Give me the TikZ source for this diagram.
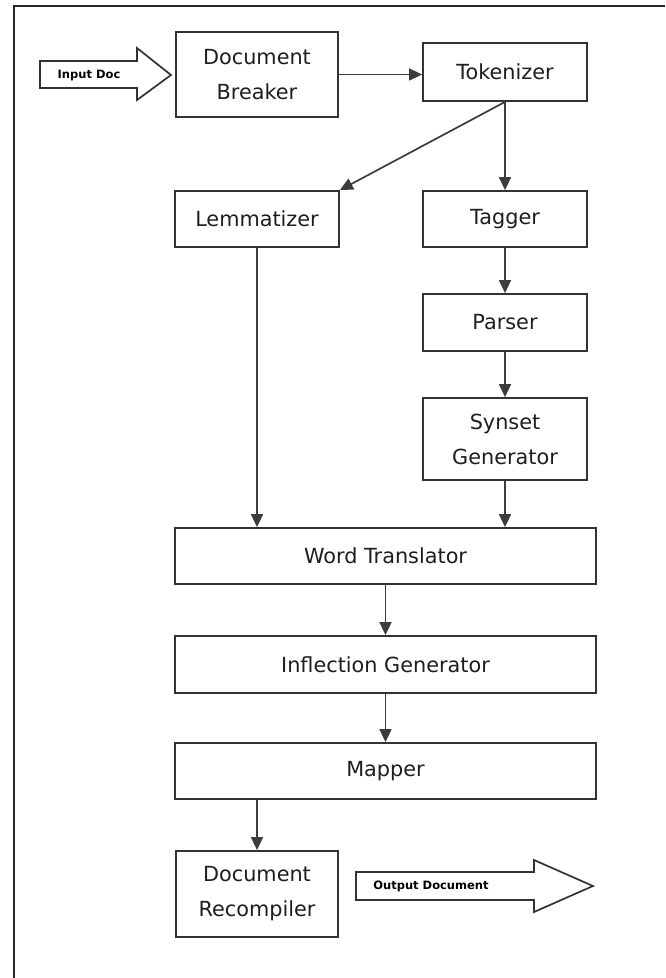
\documentclass[tikz,border=0pt]{standalone}
\usepackage{fontspec}
\setmainfont{DejaVu Sans}
\usetikzlibrary{arrows.meta}
\definecolor{linegray}{HTML}{333333}
\definecolor{conngray}{HTML}{3C3C3C}
\definecolor{txt}{HTML}{1E1E1E}
\begin{document}
\begin{tikzpicture}[x=1pt,y=-1pt,
  box/.style={draw=linegray, line width=1.8pt, fill=white, inner sep=0pt,
    align=center, text=txt, font=\fontsize{20.8}{35}\selectfont},
  conn/.style={draw=conngray, line width=1.7pt, -{Triangle[length=13pt,width=12pt]}},
  bigarrow/.style={draw=linegray, line width=1.7pt, fill=white, line join=miter},
  lbl/.style={inner sep=0pt, text=black, font=\fontsize{11.5}{13}\selectfont\bfseries}
]
\useasboundingbox (0,0) rectangle (665,978);
\fill[white] (0,0) rectangle (665,978);
% frame (top and left edges)
\draw[line width=2pt, black!85] (665,6) -- (14,6) -- (14,978);

% nodes
\node[box, minimum width=162pt, minimum height=85pt] (DB) at (257,74.5) {Document\\Breaker};
\node[box, minimum width=164pt, minimum height=58pt] (Tok) at (505,72) {Tokenizer};
\node[box, minimum width=164pt, minimum height=56pt] (Lem) at (257,219) {Lemmatizer};
\node[box, minimum width=164pt, minimum height=56pt] (Tag) at (505,219) {Tagger};
\node[box, minimum width=164pt, minimum height=57pt] (Par) at (505,322.5) {Parser};
\node[box, minimum width=164pt, minimum height=82pt] (Syn) at (505,439) {Synset\\Generator};
\node[box, minimum width=421pt, minimum height=56pt] (WT) at (385.5,556) {Word Translator};
\node[box, minimum width=421pt, minimum height=57pt] (IG) at (385.5,664.5) {Inflection Generator};
\node[box, minimum width=421pt, minimum height=56pt] (Map) at (385.5,771) {Mapper};
\node[box, minimum width=162pt, minimum height=86pt] (DR) at (257,894) {Document\\Recompiler};

% big input / output arrows
\draw[bigarrow] (40,61) -- (137,61) -- (137,48) -- (171,75) -- (137,100) -- (137,88) -- (40,88) -- cycle;
\node[lbl] (inlbl) at (89,75) {Input Doc};
\draw[bigarrow] (356,872) -- (534,872) -- (534,860) -- (593,886) -- (534,912) -- (534,900) -- (356,900) -- cycle;
\node[lbl] (outlbl) at (431,886) {Output Document};

% connectors
\draw[conn] (DB.east) -- (DB.east -| Tok.west);
\draw[conn] (Tok.south) -- (Lem.north east);
\draw[conn] (Tok.south) -- (Tag.north);
\draw[conn] (Tag.south) -- (Par.north);
\draw[conn] (Par.south) -- (Syn.north);
\draw[conn] (Lem.south) -- (Lem.south |- WT.north);
\draw[conn] (Syn.south) -- (Syn.south |- WT.north);
\draw[conn] (WT.south) -- (IG.north);
\draw[conn] (IG.south) -- (Map.north);
\draw[conn] (Map.south -| DR.north) -- (DR.north);
\end{tikzpicture}
\end{document}
